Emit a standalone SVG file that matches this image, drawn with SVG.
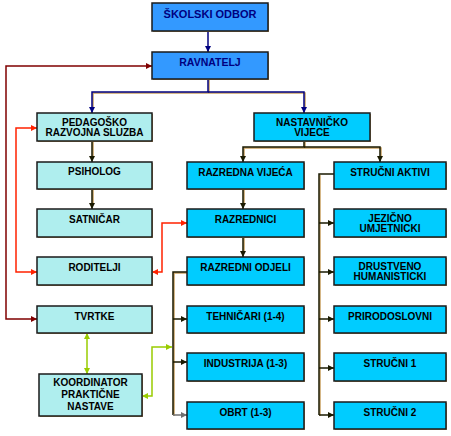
<svg xmlns="http://www.w3.org/2000/svg" width="451" height="436" viewBox="0 0 451 436">
<style>
.bx{stroke:#1a1a1a;stroke-width:1.5}
.sh{fill:#c8a060}
.top{fill:#3399ff}
.pale{fill:#afeeee}
.cy{fill:#00ccff}
text{font-family:"Liberation Sans",Arial,sans-serif;font-weight:bold;font-size:10px;text-anchor:middle;fill:#000}
.tt{fill:#000080}
.c{fill:none;stroke-width:1.5}
.shl{fill:none;stroke:#c8a060;stroke-width:1.5}
</style>
<defs>
<marker id="aN" markerUnits="userSpaceOnUse" markerWidth="8" markerHeight="8" refX="6" refY="3" orient="auto-start-reverse"><path d="M0,0 L6,3 L0,6 Z" fill="#000080"/></marker>
<marker id="aD" markerUnits="userSpaceOnUse" markerWidth="8" markerHeight="8" refX="6" refY="3" orient="auto-start-reverse"><path d="M0,0 L6,3 L0,6 Z" fill="#1a1a00"/></marker>
<marker id="aG" markerUnits="userSpaceOnUse" markerWidth="8" markerHeight="8" refX="6" refY="3" orient="auto-start-reverse"><path d="M0,0 L6,3 L0,6 Z" fill="#707070"/></marker>
<marker id="aM" markerUnits="userSpaceOnUse" markerWidth="8" markerHeight="8" refX="6" refY="3" orient="auto-start-reverse"><path d="M0,0 L6,3 L0,6 Z" fill="#800000"/></marker>
<marker id="aR" markerUnits="userSpaceOnUse" markerWidth="8" markerHeight="8" refX="6" refY="3" orient="auto-start-reverse"><path d="M0,0 L6,3 L0,6 Z" fill="#ff2200"/></marker>
<marker id="aY" markerUnits="userSpaceOnUse" markerWidth="8" markerHeight="8" refX="6" refY="3" orient="auto-start-reverse"><path d="M0,0 L6,3 L0,6 Z" fill="#99cc00"/></marker>
</defs>

<g id="connectors">
<g transform="translate(1,1)">
<path class="shl" d="M208,79 V92 H92 V107 M208,92 H304 V107"/>
<path class="shl" d="M92,141 V156 M92,189 V203"/>
<path class="shl" d="M304,141 V147 H243 V156 M304,147 H380 V156"/>
<path class="shl" d="M243,189 V203 M243,237 V251"/>
<path class="shl" d="M187,272 H173 V415 M319,174 V415"/>
</g>
<path class="c" stroke="#000080" d="M208,31 V52" marker-end="url(#aN)"/>
<path class="c" stroke="#000080" d="M208,79 V92 H92 V113" marker-end="url(#aN)"/>
<path class="c" stroke="#000080" d="M208,92 H304 V113" marker-end="url(#aN)"/>
<path class="c" stroke="#1a1a00" d="M92,141 V162" marker-end="url(#aD)"/>
<path class="c" stroke="#1a1a00" d="M92,189 V209" marker-end="url(#aD)"/>
<path class="c" stroke="#1a1a00" d="M304,141 V147 H243 V162" marker-end="url(#aD)"/>
<path class="c" stroke="#1a1a00" d="M304,147 H380 V162" marker-end="url(#aD)"/>
<path class="c" stroke="#1a1a00" d="M243,189 V209" marker-end="url(#aD)"/>
<path class="c" stroke="#1a1a00" d="M243,237 V257" marker-end="url(#aD)"/>
<path class="c" stroke="#1a1a00" d="M187,272 H173 V415"/>
<path class="c" stroke="#1a1a00" d="M173,319 H187" marker-end="url(#aD)"/>
<path class="c" stroke="#1a1a00" d="M173,362 H187" marker-end="url(#aD)"/>
<path class="c" stroke="#707070" d="M173,415 H187" marker-end="url(#aG)"/>
<path class="c" stroke="#1a1a00" d="M334,174 H319 V415"/>
<path class="c" stroke="#1a1a00" d="M319,223 H334" marker-end="url(#aD)"/>
<path class="c" stroke="#1a1a00" d="M319,272 H334" marker-end="url(#aD)"/>
<path class="c" stroke="#1a1a00" d="M319,319 H334" marker-end="url(#aD)"/>
<path class="c" stroke="#1a1a00" d="M319,368 H334" marker-end="url(#aD)"/>
<path class="c" stroke="#1a1a00" d="M319,415 H334" marker-end="url(#aD)"/>
<path class="c" stroke="#800000" d="M152,66 H6 V319 H37" marker-start="url(#aM)" marker-end="url(#aM)"/>
<path class="c" stroke="#ff2200" d="M37,128 H16 V272 H37" marker-start="url(#aR)" marker-end="url(#aR)"/>
<path class="c" stroke="#ff2200" d="M152,272 H162 V223 H187" marker-start="url(#aR)" marker-end="url(#aR)"/>
<path class="c" stroke="#99cc00" d="M87,333 V374" marker-start="url(#aY)" marker-end="url(#aY)"/>
<path class="c" stroke="#99cc00" d="M142,396 H152 V347 H172" marker-start="url(#aY)" marker-end="url(#aY)"/>
</g>

<g id="skolski-odbor"><rect class="sh" x="153" y="4" width="116" height="28"/><rect class="bx top" x="152" y="3" width="116" height="28"/><text class="tt" x="210" y="18" style="font-size:11px">ŠKOLSKI ODBOR</text></g>
<g id="ravnatelj"><rect class="sh" x="153" y="53" width="116" height="27"/><rect class="bx top" x="152" y="52" width="116" height="27"/><text class="tt" x="210" y="66" style="font-size:10.5px">RAVNATELJ</text></g>

<g id="pedagosko"><rect class="sh" x="38" y="114" width="115" height="28"/><rect class="bx pale" x="37" y="113" width="115" height="28"/><text x="94.5" y="126">PEDAGOŠKO</text><text x="94.5" y="136">RAZVOJNA SLUZBA</text></g>
<g id="psiholog"><rect class="sh" x="38" y="163" width="115" height="27"/><rect class="bx pale" x="37" y="162" width="115" height="27"/><text x="94.5" y="175">PSIHOLOG</text></g>
<g id="satnicar"><rect class="sh" x="38" y="210" width="115" height="28"/><rect class="bx pale" x="37" y="209" width="115" height="28"/><text x="94.5" y="223">SATNIČAR</text></g>
<g id="roditelji"><rect class="sh" x="38" y="258" width="115" height="28"/><rect class="bx pale" x="37" y="257" width="115" height="28"/><text x="94.5" y="271">RODITELJI</text></g>
<g id="tvrtke"><rect class="sh" x="38" y="307" width="115" height="27"/><rect class="bx pale" x="37" y="306" width="115" height="27"/><text x="94.5" y="320">TVRTKE</text></g>
<g id="koordinator"><rect class="sh" x="40" y="375" width="103" height="42"/><rect class="bx pale" x="39" y="374" width="103" height="42"/><text x="90.5" y="386">KOORDINATOR</text><text x="90.5" y="398">PRAKTIČNE</text><text x="90.5" y="410">NASTAVE</text></g>

<g id="nastavnicko"><rect class="sh" x="255" y="114" width="116" height="28"/><rect class="bx cy" x="254" y="113" width="116" height="28"/><text x="312" y="126">NASTAVNIČKO</text><text x="312" y="136">VIJECE</text></g>
<g id="razredna-vijeca"><rect class="sh" x="188" y="163" width="117" height="27"/><rect class="bx cy" x="187" y="162" width="117" height="27"/><text x="245.5" y="176">RAZREDNA VIJEĆA</text></g>
<g id="razrednici"><rect class="sh" x="188" y="210" width="117" height="28"/><rect class="bx cy" x="187" y="209" width="117" height="28"/><text x="245.5" y="223">RAZREDNICI</text></g>
<g id="razredni-odjeli"><rect class="sh" x="188" y="258" width="117" height="28"/><rect class="bx cy" x="187" y="257" width="117" height="28"/><text x="245.5" y="271">RAZREDNI ODJELI</text></g>
<g id="tehnicari"><rect class="sh" x="188" y="307" width="117" height="27"/><rect class="bx cy" x="187" y="306" width="117" height="27"/><text x="245.5" y="320">TEHNIČARI (1-4)</text></g>
<g id="industrija"><rect class="sh" x="188" y="354" width="117" height="28"/><rect class="bx cy" x="187" y="353" width="117" height="28"/><text x="245.5" y="367">INDUSTRIJA (1-3)</text></g>
<g id="obrt"><rect class="sh" x="188" y="403" width="117" height="27"/><rect class="bx cy" x="187" y="402" width="117" height="27"/><text x="245.5" y="416">OBRT (1-3)</text></g>

<g id="strucni-aktivi"><rect class="sh" x="335" y="163" width="112" height="27"/><rect class="bx cy" x="334" y="162" width="112" height="27"/><text x="390" y="176">STRUČNI AKTIVI</text></g>
<g id="jezicno"><rect class="sh" x="335" y="210" width="112" height="28"/><rect class="bx cy" x="334" y="209" width="112" height="28"/><text x="390" y="222">JEZIČNO</text><text x="390" y="232">UMJETNICKI</text></g>
<g id="drustveno"><rect class="sh" x="335" y="258" width="112" height="28"/><rect class="bx cy" x="334" y="257" width="112" height="28"/><text x="390" y="270">DRUSTVENO</text><text x="390" y="280">HUMANISTICKI</text></g>
<g id="prirodoslovni"><rect class="sh" x="335" y="307" width="112" height="27"/><rect class="bx cy" x="334" y="306" width="112" height="27"/><text x="390" y="320">PRIRODOSLOVNI</text></g>
<g id="strucni-1"><rect class="sh" x="335" y="354" width="112" height="28"/><rect class="bx cy" x="334" y="353" width="112" height="28"/><text x="390" y="367">STRUČNI 1</text></g>
<g id="strucni-2"><rect class="sh" x="335" y="403" width="112" height="27"/><rect class="bx cy" x="334" y="402" width="112" height="27"/><text x="390" y="416">STRUČNI 2</text></g>
</svg>
